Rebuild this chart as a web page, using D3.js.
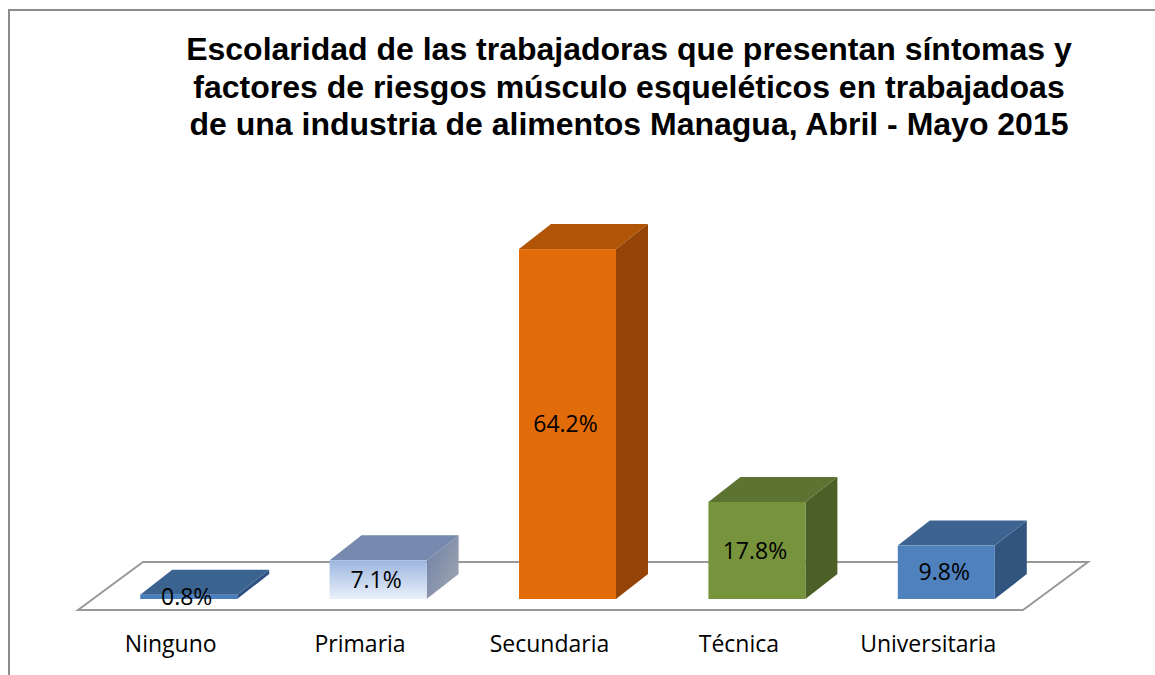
<!DOCTYPE html>
<html>
  <head>
    <meta charset="utf-8">
    <script src="https://cdnjs.cloudflare.com/ajax/libs/d3/7.8.5/d3.min.js"></script>
    <style>
      body { margin: 0; background: #fff; }
    </style>
  </head>
  <body>
    <div id="vis"></div>
    <script type="text/javascript">

        const titleLines = [
          "Escolaridad de las trabajadoras que presentan síntomas y",
          "factores de riesgos músculo esqueléticos en trabajadoas",
          "de una industria de alimentos Managua, Abril - Mayo 2015"
        ];
        const categories = ["Ninguno", "Primaria", "Secundaria", "Técnica", "Universitaria"];
        const values = [0.8, 7.1, 64.2, 17.8, 9.8];
        const valueLabels = ["0.8%", "7.1%", "64.2%", "17.8%", "9.8%"];

        // face colours per bar: front, top, side
        const palette = [
          {front: "#4a7fbf", top: "#3b6390", side: "#2f5282"},
          {front: "url(#gradPrim)", top: "#7789ae", side: "url(#gradPrimSide)"},
          {front: "#e36c0a", top: "#b05406", side: "#944408"},
          {front: "#77933c", top: "#5c7331", side: "#4c5f27"},
          {front: "#4f81bd", top: "#3d6490", side: "#32557f"}
        ];

        const W = 1155, H = 675;
        const svg = d3.select("#vis")
            .append("svg")
            .attr("width", W)
            .attr("height", H);

        const defs = svg.append("defs");
        const g1 = defs.append("linearGradient").attr("id", "gradPrim")
            .attr("x1", 0).attr("y1", 0).attr("x2", 0).attr("y2", 1);
        g1.append("stop").attr("offset", "0%").attr("stop-color", "#9cb6df");
        g1.append("stop").attr("offset", "100%").attr("stop-color", "#eaf0fa");
        const g2 = defs.append("linearGradient").attr("id", "gradPrimSide")
            .attr("x1", 0).attr("y1", 0).attr("x2", 1).attr("y2", 1);
        g2.append("stop").attr("offset", "0%").attr("stop-color", "#6d7fa4");
        g2.append("stop").attr("offset", "100%").attr("stop-color", "#a4a9b4");

        // outer frame
        svg.append("path")
            .attr("d", "M9,675 L9,10 L1160,10")
            .attr("fill", "none")
            .attr("stroke", "#8c8c8c")
            .attr("stroke-width", 2);

        // title
        svg.append("text")
            .attr("x", 629)
            .attr("y", 60)
            .attr("text-anchor", "middle")
            .style("font-family", "'Liberation Sans', Arial, sans-serif")
            .style("font-weight", "bold")
            .style("font-size", "32px")
            .selectAll("tspan")
            .data(titleLines)
            .join("tspan")
            .attr("x", 629)
            .attr("dy", (d, i) => i === 0 ? 0 : 37.5)
            .text(d => d);

        const x = d3.scalePoint()
            .domain(categories)
            .range([94, 1041])
            .padding(0.5);
        const y = d3.scaleLinear()
            .domain([0, 70])
            .range([599, 599 - 70 * 5.45]);

        const barW = 97, dx = 32, dy = -25;

        // floor
        const fl = {x0: 78, x1: 1023, y: 610, ddx: 65, ddy: -48};
        svg.append("path")
            .attr("d", `M${fl.x0},${fl.y} L${fl.x0 + fl.ddx},${fl.y + fl.ddy} L${fl.x1 + fl.ddx},${fl.y + fl.ddy} L${fl.x1},${fl.y} Z`)
            .attr("fill", "#fff")
            .attr("stroke", "#999")
            .attr("stroke-width", 2);

        const data = categories.map((c, i) => ({cat: c, v: values[i], label: valueLabels[i], col: palette[i]}));

        const bars = svg.selectAll("g.bar")
            .data(data)
            .join("g")
            .attr("class", "bar");

        bars.each(function(d) {
            const g = d3.select(this);
            const xl = x(d.cat) - barW / 2, xr = xl + barW;
            const yt = y(d.v), yb = y(0);
            // side
            g.append("path")
                .attr("d", `M${xr},${yb} L${xr + dx},${yb + dy} L${xr + dx},${yt + dy} L${xr},${yt} Z`)
                .attr("fill", d.col.side);
            // top
            g.append("path")
                .attr("d", `M${xl},${yt} L${xl + dx},${yt + dy} L${xr + dx},${yt + dy} L${xr},${yt} Z`)
                .attr("fill", d.col.top);
            // front
            g.append("rect")
                .attr("x", xl)
                .attr("y", yt)
                .attr("width", barW)
                .attr("height", Math.max(yb - yt, 1))
                .attr("fill", d.col.front);
        });

        // value labels
        svg.selectAll("text.val")
            .data(data)
            .join("text")
            .attr("class", "val")
            .attr("x", d => x(d.cat) - 2)
            .attr("y", d => (y(d.v) + y(0)) / 2)
            .attr("dy", "0.35em")
            .attr("text-anchor", "middle")
            .style("font-family", "'Open Sans', sans-serif")
            .style("font-size", "23px")
            .style("fill", "#000")
            .text(d => d.label);

        // category labels
        svg.selectAll("text.cat")
            .data(categories)
            .join("text")
            .attr("class", "cat")
            .attr("x", d => x(d) - 18)
            .attr("y", 652)
            .attr("text-anchor", "middle")
            .style("font-family", "'Open Sans', sans-serif")
            .style("font-size", "23px")
            .style("fill", "#000")
            .text(d => d);

    </script>
  </body>
</html>
